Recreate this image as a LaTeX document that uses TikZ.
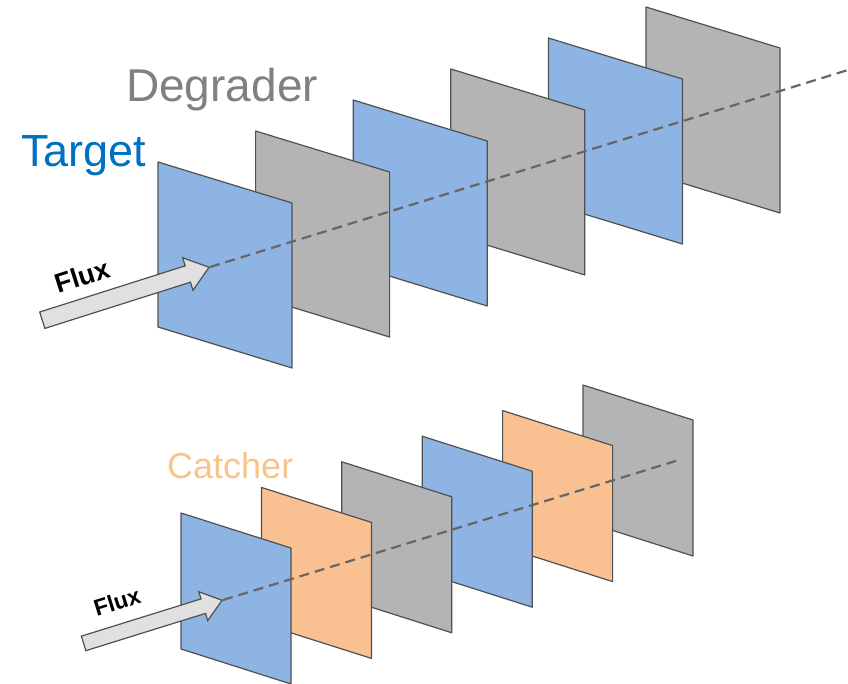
\documentclass[tikz,border=0pt]{standalone}
\usepackage{fontspec}
\setmainfont{Liberation Sans}
\usepackage{tikz}
\usetikzlibrary{shapes.arrows,positioning}
\definecolor{plateblue}{RGB}{141,180,226}
\definecolor{plategray}{RGB}{180,180,182}
\definecolor{plateorange}{RGB}{249,193,145}
\definecolor{labelblue}{RGB}{0,112,192}
\definecolor{labelgray}{RGB}{128,128,128}
\definecolor{labelorange}{RGB}{248,196,138}
\definecolor{rim}{RGB}{80,80,80}

\begin{document}
\begin{tikzpicture}[
    x=1pt, y=-1pt,
    plate/.style={
		draw=rim,
		line width=1.2pt,
		line join=round
	},
    beam/.style={
		draw=black!60,
		line width=2.2pt,
		dash pattern=on 10pt off 6pt
	},
    fluxarrow/.style={
		single arrow,
		draw=rim,
		fill=black!12,
		line width=1.2pt,
		inner sep=8pt,
		single arrow head extend=8.5pt,
		single arrow tip angle=75,
		anchor=tip
	},
    fluxtext/.style={
		inner sep=0pt,
		font=\bfseries
	},
    stacklabel/.style={
		inner sep=0pt,
		anchor=base west
	}
  ]
  \useasboundingbox (0,0) rectangle (848,684);

  % upper stack: target / degrader plates, back to front
  \foreach \i/\fillc in {5/plategray,4/plateblue,3/plategray,2/plateblue,1/plategray,0/plateblue}
    \filldraw[plate, fill=\fillc] ({158+97.6*\i},{162-31*\i}) -- ++(134,41) -- ++(0,165) -- ++(-134,-41) -- cycle;

  \coordinate (hitA) at (210,267);
  \coordinate (exitA) at (848,70);
  \draw [beam] (hitA) -- (exitA);
  \node [fluxarrow, minimum height=175pt, rotate=17.6] (arrowA) at (hitA) {};
  \node [fluxtext, rotate=17.6, font=\bfseries\fontsize{27}{27}\selectfont] (fluxA) at (82,276) {Flux};

  \node [stacklabel, text=labelblue, font=\fontsize{45}{45}\selectfont] (target) at (21,167) {Target};
  \node [stacklabel, text=labelgray, font=\fontsize{46}{46}\selectfont] (degrader) at (126,102) {Degrader};

  % lower stack: target / catcher / degrader plates
  \foreach \i/\fillc in {5/plategray,4/plateorange,3/plateblue,2/plategray,1/plateorange,0/plateblue}
    \filldraw[plate, fill=\fillc] ({181+80.4*\i},{513-25.6*\i}) -- ++(110,35) -- ++(0,136) -- ++(-110,-35) -- cycle;

  \coordinate (hitB) at (223,600);
  \coordinate (exitB) at (679,460);
  \draw [beam] (hitB) -- (exitB);
  \node [fluxarrow, minimum height=145pt, inner sep=7pt, single arrow head extend=7.5pt, rotate=17.3] (arrowB) at (hitB) {};
  \node [fluxtext, rotate=17.3, font=\bfseries\fontsize{23}{23}\selectfont] (fluxB) at (117,602) {Flux};

  \node [stacklabel, text=labelorange, font=\fontsize{36}{36}\selectfont] (catcher) at (167,478) {Catcher};
\end{tikzpicture}
\end{document}
